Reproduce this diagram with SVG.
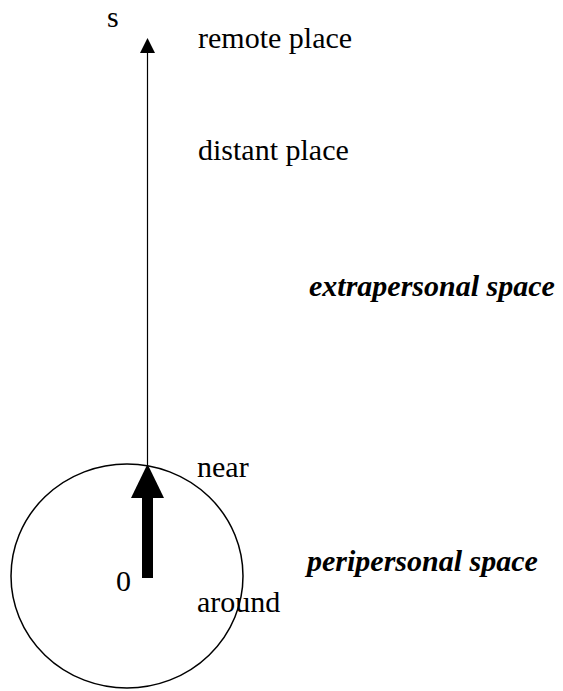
<svg xmlns="http://www.w3.org/2000/svg" width="563" height="691" viewBox="0 0 563 691">
<style>
text{font-family:"Liberation Serif","Times New Roman",serif;font-size:30px;fill:#000}
.b{font-weight:bold;font-style:italic}
</style>
<rect width="563" height="691" fill="#fff"/>
<g id="circle"><ellipse cx="127" cy="576" rx="116" ry="112" fill="none" stroke="#000" stroke-width="1.5"/></g>
<g id="connectors">
<line x1="147.5" y1="465" x2="147.5" y2="53" stroke="#000" stroke-width="1.2"/>
<path d="M147.5,38 L140,53 L155,53 Z" fill="#000"/>
<rect x="142" y="497" width="11" height="81" fill="#000"/>
<path d="M147.5,464 L131,498 L164,498 Z" fill="#000"/>
</g>
<g id="labels">
<text x="107" y="27">s</text>
<text x="198" y="48">remote place</text>
<text x="198" y="160">distant place</text>
<text class="b" x="309" y="296">extrapersonal space</text>
<text x="197" y="477">near</text>
<text class="b" x="307" y="571">peripersonal space</text>
<text x="116" y="591">0</text>
<text x="197" y="612">around</text>
</g>
</svg>
